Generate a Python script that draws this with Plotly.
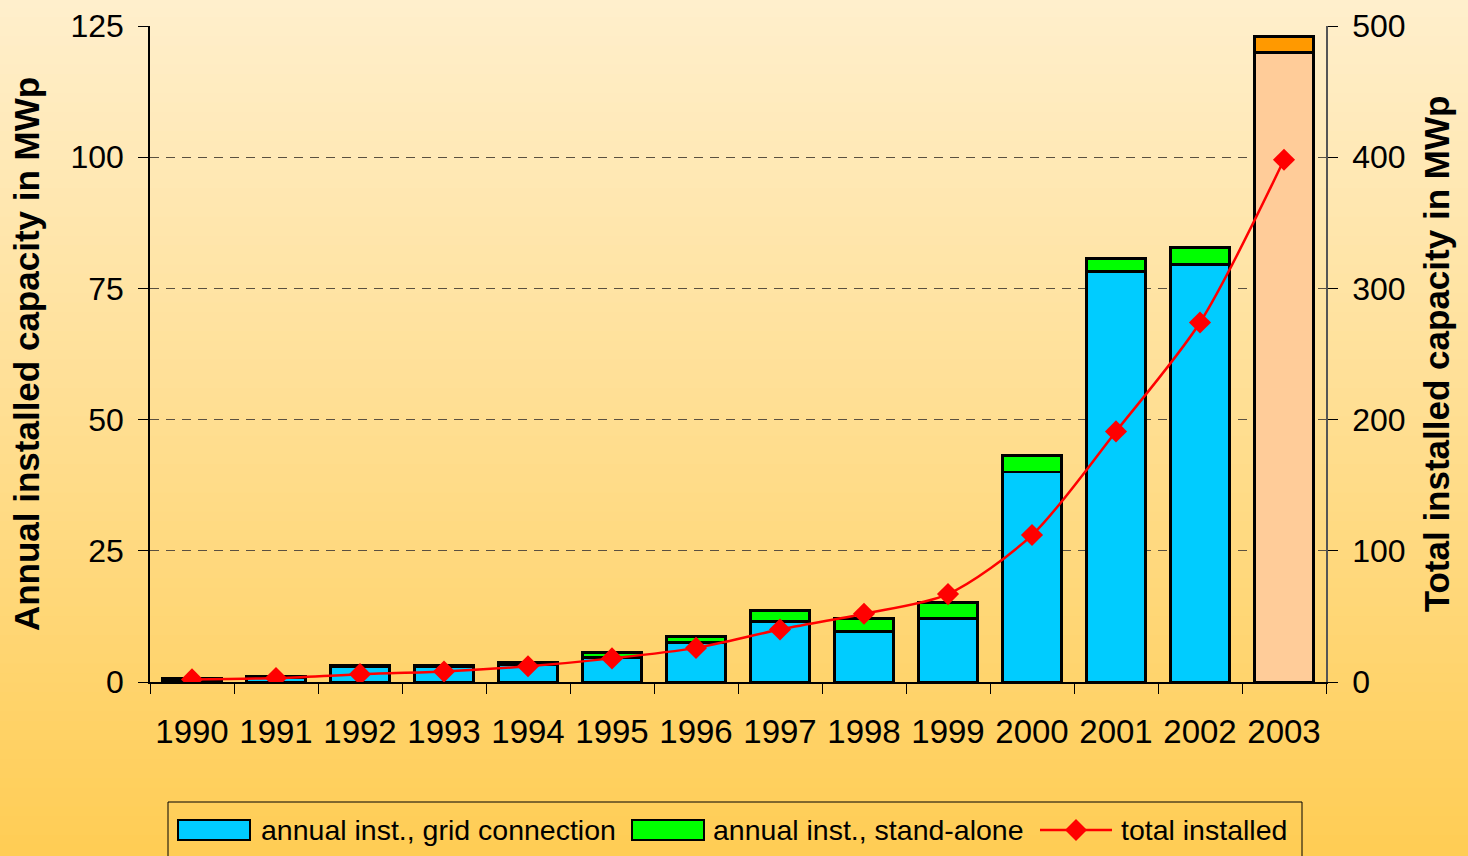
import plotly.graph_objects as go

years = ["1990", "1991", "1992", "1993", "1994", "1995", "1996", "1997",
         "1998", "1999", "2000", "2001", "2002", "2003"]
grid_connection = [0.4, 0.8, 2.9, 2.9, 3.3, 4.6, 7.5, 11.6, 9.6, 12.1, 40.0, 78.2, 79.6, 120.0]
stand_alone = [0.2, 0.3, 0.2, 0.2, 0.4, 1.0, 1.1, 2.1, 2.5, 3.1, 3.1, 2.5, 3.2, 3.0]
total_installed = [2, 3, 6, 8, 12, 18, 26, 40, 52, 67, 112, 191, 274, 398]

left_ticks = [0, 25, 50, 75, 100, 125]
right_ticks = [0, 100, 200, 300, 400, 500]

legend_names = ["annual inst., grid connection", "annual inst., stand-alone", "total installed"]

CYAN, GREEN, RED = "#00CCFF", "#00FF00", "#FF0000"
grid_colors = [CYAN] * (len(years) - 1) + ["#FFCC99"]
sa_colors = [GREEN] * (len(years) - 1) + ["#FF9900"]

FONT = "Liberation Sans, Arial, sans-serif"
W, H = 1468, 856
L, R, T, B = 150, 142, 26, 174
PW, PH = W - L - R, H - T - B


def px(x):
    return (x - L) / PW


def py(y):
    return (H - B - y) / PH


fig = go.Figure()
fig.add_trace(go.Bar(x=years, y=grid_connection, name=legend_names[0],
                     marker=dict(color=grid_colors, line=dict(color="black", width=2.8))))
fig.add_trace(go.Bar(x=years, y=stand_alone, name=legend_names[1],
                     marker=dict(color=sa_colors, line=dict(color="black", width=2.8))))
fig.add_trace(go.Scatter(x=years, y=total_installed, name=legend_names[2], yaxis="y2",
                         mode="lines+markers", line=dict(color=RED, width=2.5, shape="spline", smoothing=0.8),
                         marker=dict(symbol="diamond", size=17, color=RED)))

shapes = []
# vertical gradient background built from thin strips
n = 90
top = (255, 239, 204)
bot = (255, 205, 85)
for i in range(n):
    t = i / (n - 1)
    c = tuple(round(top[k] + (bot[k] - top[k]) * t) for k in range(3))
    ya = py(H * i / n)
    yb = py(H * (i + 1) / n)
    shapes.append(dict(type="rect", xref="paper", yref="paper", x0=px(-5), x1=px(W + 5),
                       y0=yb - 0.003, y1=ya + 0.003, fillcolor="rgb(%d,%d,%d)" % c,
                       line=dict(width=0), layer="below"))

# manual legend (wide swatches like the original)
shapes.append(dict(type="rect", xref="paper", yref="paper", x0=px(168), x1=px(1302),
                   y0=py(880), y1=py(802), line=dict(color="black", width=1), fillcolor="rgba(0,0,0,0)"))
shapes.append(dict(type="rect", xref="paper", yref="paper", x0=px(178), x1=px(250),
                   y0=py(840), y1=py(820), line=dict(color="black", width=2), fillcolor=CYAN))
shapes.append(dict(type="rect", xref="paper", yref="paper", x0=px(632), x1=px(704),
                   y0=py(840), y1=py(820), line=dict(color="black", width=2), fillcolor=GREEN))
shapes.append(dict(type="line", xref="paper", yref="paper", x0=px(1040), x1=px(1112),
                   y0=py(830), y1=py(830), line=dict(color=RED, width=2.5)))
d = 11
shapes.append(dict(type="path", xref="paper", yref="paper",
                   path="M %f %f L %f %f L %f %f L %f %f Z" % (
                       px(1076), py(830 - d), px(1076 + d), py(830), px(1076), py(830 + d), px(1076 - d), py(830)),
                   fillcolor=RED, line=dict(width=0)))

annotations = []
for name, xpos in zip(legend_names, [259, 711, 1119]):
    annotations.append(dict(text=name, xref="paper", yref="paper", x=px(xpos), y=py(830),
                            xanchor="left", yanchor="middle", showarrow=False,
                            font=dict(size=28.5, color="black", family=FONT)))

fig.update_layout(
    width=W, height=H,
    margin=dict(l=L, r=R, t=T, b=B, autoexpand=False),
    barmode="stack", bargap=0.29,
    paper_bgcolor="#FFE2A0", plot_bgcolor="rgba(0,0,0,0)",
    shapes=shapes, annotations=annotations,
    font=dict(family=FONT, color="black"),
    showlegend=False,
    xaxis=dict(type="category", range=[-0.5, len(years) - 0.5], autorange=False,
               showline=True, linecolor="black", linewidth=1.5,
               ticks="outside", tickson="boundaries", ticklen=10, tickcolor="black",
               tickfont=dict(size=33), ticklabelstandoff=20, showgrid=False, automargin=False),
    yaxis=dict(range=[0, 125], tickvals=left_ticks, showline=True, linecolor="black",
               linewidth=1.5, ticks="outside", ticklen=10, tickcolor="black",
               tickfont=dict(size=32), ticklabelstandoff=8, automargin=False,
               showgrid=True, gridcolor="#5a5040", griddash="9px,7px", gridwidth=1.3,
               zeroline=False,
               title=dict(text="<b>Annual installed capacity in MWp</b>", font=dict(size=35), standoff=20)),
    yaxis2=dict(range=[0, 500], tickvals=right_ticks, overlaying="y", side="right",
                showline=True, linecolor="#555555", linewidth=1.5, ticks="outside",
                ticklen=10, tickcolor="black", tickfont=dict(size=32), ticklabelstandoff=8,
                showgrid=False, zeroline=False, automargin=False,
                title=dict(text="<b>Total installed capacity in MWp</b>", font=dict(size=35), standoff=20)),
)

fig.write_html("out.html")
